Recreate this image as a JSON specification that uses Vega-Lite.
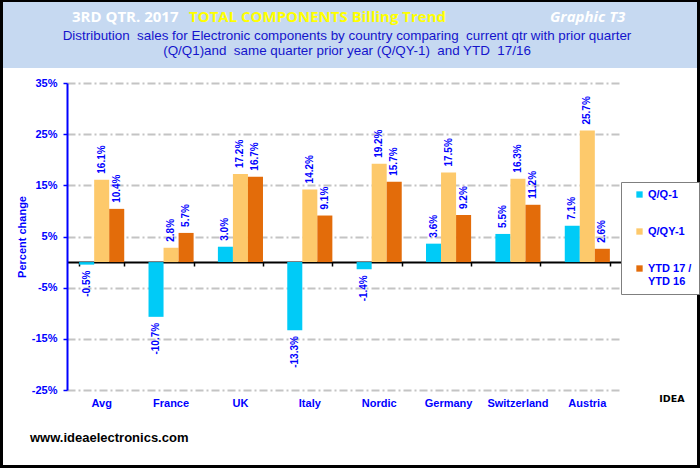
{
  "$schema": "https://vega.github.io/schema/vega-lite/v6.json",
  "background": "black",
  "padding": {"left": 3, "top": 2, "right": 3, "bottom": 3},
  "spacing": 0,
  "bounds": "full",
  "config": {
    "view": {"stroke": null},
    "locale": {"number": {"decimal": ".", "thousands": ",", "grouping": [3], "currency": ["$", ""], "minus": "-"}}
  },
  "title": {
    "text": "IDEA", "orient": "bottom", "anchor": "end", "offset": 0, "dx": -15, "dy": -71,
    "font": "DejaVu Sans", "fontSize": 9.5, "fontWeight": "bold", "color": "black", "baseline": "top"
  },
  "vconcat": [
    {
      "title": {
        "text": "Distribution\u00a0 sales for Electronic components by country comparing\u00a0 current qtr with prior quarter",
        "subtitle": "(Q/Q1)and\u00a0 same quarter prior year (Q/QY-1)\u00a0 and YTD\u00a0 17/16",
        "orient": "top", "anchor": "middle", "offset": 0, "dy": 55, "dx": -3, "baseline": "top",
        "font": "Liberation Sans", "fontSize": 13.4, "fontWeight": "normal", "color": "#1414cc",
        "subtitleFont": "Liberation Sans", "subtitleFontSize": 13.4, "subtitleFontWeight": "normal",
        "subtitleColor": "#1414cc", "subtitlePadding": 1.5
      },
      "spacing": 0,
      "bounds": "flush",
      "hconcat": [
        {
          "width": 186, "height": 66,
          "view": {"fill": "#c6d9f1", "stroke": null},
          "data": {"values": [{}]},
          "mark": {"type": "rect", "color": "#c6d9f1"},
          "title": {
            "text": "3RD QTR. 2017", "orient": "top", "anchor": "start", "offset": 0, "dx": 69, "dy": 23, "baseline": "top",
            "font": "Open Sans", "fontSize": 15, "fontWeight": "bold", "color": "white"
          }
        },
        {
          "width": 311, "height": 66,
          "view": {"fill": "#c6d9f1", "stroke": null},
          "data": {"values": [{}]},
          "mark": {"type": "rect", "color": "#c6d9f1"},
          "title": {
            "text": "TOTAL COMPONENTS  Billing Trend", "orient": "top", "anchor": "start", "offset": 0, "dx": 0, "dy": 23, "baseline": "top",
            "font": "Open Sans", "fontSize": 15, "fontWeight": "bold", "color": "#ffff00"
          }
        },
        {
          "width": 197, "height": 66,
          "view": {"fill": "#c6d9f1", "stroke": null},
          "data": {"values": [{}]},
          "mark": {"type": "rect", "color": "#c6d9f1"},
          "title": {
            "text": "Graphic T3", "orient": "top", "anchor": "start", "offset": 0, "dx": 50, "dy": 23, "baseline": "top",
            "font": "Open Sans", "fontSize": 15, "fontWeight": "bold", "fontStyle": "italic", "color": "white"
          }
        }
      ]
    },
    {
      "width": 694,
      "height": 397,
      "view": {"fill": "white", "stroke": null},
      "title": {
        "text": "www.ideaelectronics.com", "orient": "bottom", "anchor": "start", "offset": 0, "dx": 27, "dy": -33, "baseline": "top",
        "font": "Liberation Sans", "fontSize": 13, "fontWeight": "bold", "color": "black"
      },
      "data": {
        "values": [
          {"country": "Avg", "series": "Q/Q-1", "value": -0.005},
          {"country": "Avg", "series": "Q/QY-1", "value": 0.161},
          {"country": "Avg", "series": "YTD 17 / YTD 16", "value": 0.104},
          {"country": "France", "series": "Q/Q-1", "value": -0.107},
          {"country": "France", "series": "Q/QY-1", "value": 0.028},
          {"country": "France", "series": "YTD 17 / YTD 16", "value": 0.057},
          {"country": "UK", "series": "Q/Q-1", "value": 0.03},
          {"country": "UK", "series": "Q/QY-1", "value": 0.172},
          {"country": "UK", "series": "YTD 17 / YTD 16", "value": 0.167},
          {"country": "Italy", "series": "Q/Q-1", "value": -0.133},
          {"country": "Italy", "series": "Q/QY-1", "value": 0.142},
          {"country": "Italy", "series": "YTD 17 / YTD 16", "value": 0.091},
          {"country": "Nordic", "series": "Q/Q-1", "value": -0.014},
          {"country": "Nordic", "series": "Q/QY-1", "value": 0.192},
          {"country": "Nordic", "series": "YTD 17 / YTD 16", "value": 0.157},
          {"country": "Germany", "series": "Q/Q-1", "value": 0.036},
          {"country": "Germany", "series": "Q/QY-1", "value": 0.175},
          {"country": "Germany", "series": "YTD 17 / YTD 16", "value": 0.092},
          {"country": "Switzerland", "series": "Q/Q-1", "value": 0.055},
          {"country": "Switzerland", "series": "Q/QY-1", "value": 0.163},
          {"country": "Switzerland", "series": "YTD 17 / YTD 16", "value": 0.112},
          {"country": "Austria", "series": "Q/Q-1", "value": 0.071},
          {"country": "Austria", "series": "Q/QY-1", "value": 0.257},
          {"country": "Austria", "series": "YTD 17 / YTD 16", "value": 0.026}
        ]
      },
      "resolve": {"axis": {"x": "independent"}},
      "layer": [
        {
          "mark": {"type": "bar"},
          "encoding": {
            "x": {
              "field": "country", "type": "nominal", "sort": null,
              "scale": {"range": [64, 619], "paddingInner": 0.35, "paddingOuter": 0.175},
              "axis": {
                "orient": "bottom", "offset": -75, "title": null, "domain": false, "ticks": false, "grid": false,
                "labelAngle": 0, "labelPadding": 7, "labelFont": "Liberation Sans", "labelFontSize": 11,
                "labelFontWeight": "bold", "labelColor": "#0000ff"
              }
            },
            "xOffset": {
              "field": "series", "type": "nominal",
              "sort": ["Q/Q-1", "Q/QY-1", "YTD 17 / YTD 16"],
              "scale": {"paddingInner": 0, "paddingOuter": 0}
            },
            "y": {
              "field": "value", "type": "quantitative", "stack": null,
              "scale": {"domain": [-0.25, 0.35], "range": [322, 15], "nice": false},
              "axis": {
                "orient": "left", "offset": -64,
                "values": [-0.25, -0.15, -0.05, 0.05, 0.15, 0.25, 0.35], "format": ".0%",
                "title": "Percent change", "titleFont": "Liberation Sans", "titleFontSize": 11,
                "titleFontWeight": "bold", "titleColor": "#0000ff", "titlePadding": 4,
                "labelFont": "Liberation Sans", "labelFontSize": 11, "labelFontWeight": "bold",
                "labelColor": "#0000ff", "labelPadding": 6,
                "domainColor": "#0000ff", "domainWidth": 2,
                "tickColor": "#0000ff", "tickSize": 4, "tickWidth": 1.5,
                "grid": true, "gridColor": "#c4c4c4", "gridWidth": 2, "gridDash": [8, 3, 2, 3]
              }
            },
            "color": {
              "field": "series", "type": "nominal",
              "scale": {
                "domain": ["Q/Q-1", "Q/QY-1", "YTD 17 / YTD 16"],
                "range": ["#00cbf7", "#fdc96b", "#e36c0a"]
              },
              "legend": {
                "orient": "none", "legendX": 618, "legendY": 180, "title": null,
                "fillColor": "white", "strokeColor": "#7f7f7f", "padding": 7,
                "symbolType": "square", "symbolSize": 40, "symbolStrokeWidth": 0, "symbolOffset": 6,
                "labelFont": "Liberation Sans", "labelFontSize": 11, "labelFontWeight": "bold",
                "labelColor": "#0000ff", "labelOffset": 3, "rowPadding": 25,
                "labelExpr": "datum.label == 'YTD 17 / YTD 16' ? ['YTD 17 /', 'YTD 16'] : datum.label"
              }
            }
          }
        },
        {
          "transform": [{"filter": "datum.value >= 0"}],
          "mark": {
            "type": "text", "angle": 270, "align": "left", "baseline": "middle", "dx": 6,
            "font": "Liberation Sans", "fontSize": 10, "fontWeight": "bold", "color": "#0000ff"
          },
          "encoding": {
            "x": {
              "field": "country", "type": "nominal", "sort": null,
              "axis": {
                "orient": "bottom", "offset": -203, "title": null, "labels": false, "grid": false,
                "domain": true, "domainColor": "black", "domainWidth": 2,
                "ticks": true, "tickBand": "extent", "tickColor": "black", "tickSize": 4, "tickWidth": 1.5
              }
            },
            "xOffset": {"field": "series", "type": "nominal", "sort": ["Q/Q-1", "Q/QY-1", "YTD 17 / YTD 16"]},
            "y": {"field": "value", "type": "quantitative", "stack": null},
            "text": {"field": "value", "type": "quantitative", "format": ".1%"}
          }
        },
        {
          "transform": [{"filter": "datum.value < 0"}],
          "mark": {
            "type": "text", "angle": 270, "align": "right", "baseline": "middle", "dx": -6,
            "font": "Liberation Sans", "fontSize": 10, "fontWeight": "bold", "color": "#0000ff"
          },
          "encoding": {
            "x": {"field": "country", "type": "nominal", "sort": null, "axis": null},
            "xOffset": {"field": "series", "type": "nominal", "sort": ["Q/Q-1", "Q/QY-1", "YTD 17 / YTD 16"]},
            "y": {"field": "value", "type": "quantitative", "stack": null},
            "text": {"field": "value", "type": "quantitative", "format": ".1%"}
          }
        }
      ]
    }
  ]
}
